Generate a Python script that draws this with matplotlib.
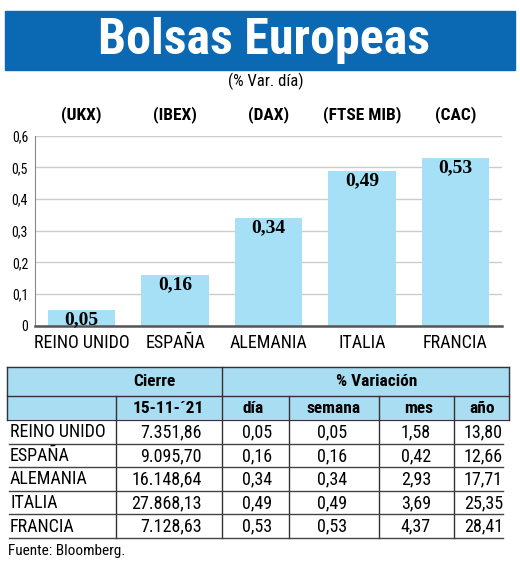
import numpy as np
import matplotlib
matplotlib.use('Agg')
import matplotlib.pyplot as plt
from matplotlib import font_manager

paises = ['REINO UNIDO', 'ESPAÑA', 'ALEMANIA', 'ITALIA', 'FRANCIA']
indices = ['(UKX)', '(IBEX)', '(DAX)', '(FTSE MIB)', '(CAC)']
var_dia = [0.05, 0.16, 0.34, 0.49, 0.53]
cierre = [7351.86, 9095.70, 16148.64, 27868.13, 7128.63]
var_semana = [0.05, 0.16, 0.34, 0.49, 0.53]
var_mes = [1.58, 0.42, 2.93, 3.69, 4.37]
var_anio = [13.80, 12.66, 17.71, 25.35, 28.41]
yticks = [0, 0.1, 0.2, 0.3, 0.4, 0.5, 0.6]
fecha = "15-11-´21"

AZUL = '#0b69b3'
CELESTE = '#a6e0f6'
HEADER = '#a9ddf1'


def pick_font():
    for fam in ['Liberation Sans Narrow', 'Roboto Condensed', 'Open Sans Condensed']:
        try:
            font_manager.findfont(font_manager.FontProperties(family=fam),
                                  fallback_to_default=False)
            return fam
        except Exception:
            pass
    return 'DejaVu Sans'


SANS = pick_font()
SERIF = 'Liberation Serif'


def es(v, dec=2):
    s = f"{v:,.{dec}f}"
    return s.replace(',', 'X').replace('.', ',').replace('X', '.')


def tick_fmt(v):
    if v == 0:
        return '0'
    return es(v, 1)


W, H = 520, 563
fig = plt.figure(figsize=(W / 100, H / 100), dpi=100)

# lienzo en pixeles
bg = fig.add_axes([0, 0, 1, 1])
bg.set_xlim(0, W)
bg.set_ylim(H, 0)
bg.axis('off')

# titulo
bg.add_patch(plt.Rectangle((5, 11), 510, 59, color=AZUL, zorder=1))
bg.text(264, 41, 'Bolsas Europeas', color='white', fontsize=36, fontweight='bold',
        family=SANS, ha='center', va='center', zorder=2)
bg.text(266, 81, '(% Var. día)', fontsize=12, family=SANS, ha='center', va='center')

# grafico de barras
ax = fig.add_axes([35 / W, (H - 325.7) / H, 467 / W, 190 / H])
x = np.arange(len(paises))
ax.bar(x, var_dia, width=0.72, color=CELESTE, zorder=2)
ax.set_xlim(-0.5, 4.5)
ax.set_ylim(0, 0.6)
ax.set_yticks(yticks)
ax.set_yticklabels([tick_fmt(v) for v in yticks], family=SANS, fontsize=10)
ax.set_xticks(x)
ax.set_xticklabels(paises, family=SANS, fontsize=13)
ax.tick_params(length=0)
ax.tick_params(axis='x', pad=6)
ax.tick_params(axis='y', pad=5)
ax.grid(axis='y', color='#cccccc', linewidth=1, zorder=0)
for s in ['top', 'right']:
    ax.spines[s].set_visible(False)
ax.spines['left'].set_color('#888888')
ax.spines['bottom'].set_color('#555555')
ax.spines['bottom'].set_linewidth(1.8)
ax.spines['bottom'].set_zorder(3)

for xi, v in zip(x, var_dia):
    ax.annotate(es(v), (xi, v), xytext=(0, -7), textcoords='offset points',
                ha='center', va='center', family=SERIF, fontweight='bold',
                fontsize=14, zorder=4)

for xi, lab in zip(x, indices):
    ax.annotate(lab, (xi, 0.6), xytext=(0, 15), textcoords='offset points',
                ha='center', va='center', family=SANS, fontweight='bold',
                fontsize=12.5, annotation_clip=False)

# tabla
tx0, tx1 = 7, 509
top, r1, r2 = 367, 396, 420
row_h = 23.6
col_lines = [116, 222, 289, 379, 454]
bg.add_patch(plt.Rectangle((tx0, top), tx1 - tx0, r2 - top, color=HEADER, zorder=1))
lc = '#333333'
bg.plot([tx0, tx1], [top, top], color=lc, lw=1, zorder=2)
bg.plot([tx0, tx1], [r1, r1], color=lc, lw=1, zorder=2)
bg.plot([tx0, tx1], [r2, r2], color=lc, lw=0.8, zorder=2)
bg.plot([tx0, tx0], [top, r2], color=lc, lw=1, zorder=2)
bg.plot([tx1, tx1], [top, r2], color=lc, lw=1, zorder=2)
n = len(paises)
bottom = r2 + row_h * n
for cx in col_lines:
    y_start = top if cx == 222 else r1
    bg.plot([cx, cx], [y_start, bottom], color=lc, lw=1, zorder=2)

bg.text(154, 382, 'Cierre', family=SANS, fontweight='bold', fontsize=12.5,
        ha='center', va='center')
bg.text(377, 382, '% Variación', family=SANS, fontweight='bold', fontsize=12.5,
        ha='center', va='center')
sub = [(168, fecha), (253, 'día'), (334, 'semana'), (419, 'mes'), (482, 'año')]
for cx, t in sub:
    bg.text(cx, 408.5, t, family=SANS, fontweight='bold', fontsize=12.5,
            ha='center', va='center')

right_edges = [202, 272, 347, 431, 503]
for i in range(n):
    yb = r2 + row_h * (i + 1)
    yc = yb - row_h / 2 + 0.5
    bg.plot([9, 503], [yb, yb], color='#444444', lw=1, zorder=2)
    bg.text(10, yc, paises[i], family=SANS, fontsize=13, ha='left', va='center')
    vals = [es(cierre[i]), es(var_dia[i]), es(var_semana[i]), es(var_mes[i]),
            es(var_anio[i])]
    for re_, t in zip(right_edges, vals):
        bg.text(re_, yc, t, family=SANS, fontsize=13, ha='right', va='center')

bg.text(8, 551, 'Fuente: Bloomberg.', family=SANS, fontsize=11, ha='left',
        va='center')

fig.savefig('out.png', dpi=100)
